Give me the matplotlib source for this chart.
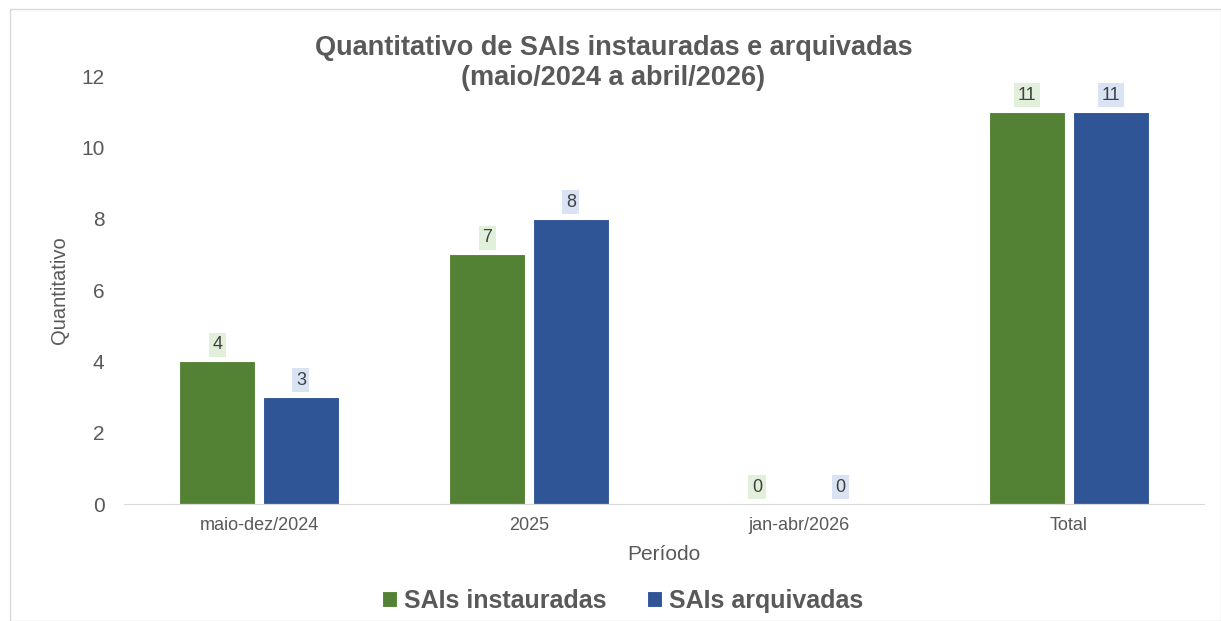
import matplotlib.pyplot as plt
from matplotlib.patches import Rectangle
import numpy as np

plt.rcParams['font.family'] = ['Liberation Sans', 'DejaVu Sans']

periodos = ["maio-dez/2024", "2025", "jan-abr/2026", "Total"]
instauradas = [4, 7, 0, 11]
arquivadas = [3, 8, 0, 11]

GREEN = "#548235"
BLUE = "#2F5597"
TEXT = "#595959"

fig = plt.figure(figsize=(12.21, 6.21), dpi=100)
fig.patches.append(Rectangle((10 / 1221, 0), 1 - 10 / 1221, 1 - 9 / 621,
                             transform=fig.transFigure, fill=False,
                             edgecolor="#d9d9d9", linewidth=1))
ax = fig.add_axes([0.1016, 0.1884, 0.8844, 0.6892])

x = np.arange(len(periodos))
w = 0.28
off = 0.155
b1 = ax.bar(x - off, instauradas, w, color=GREEN, label="SAIs instauradas",
            edgecolor="white", linewidth=0.8)
b2 = ax.bar(x + off, arquivadas, w, color=BLUE, label="SAIs arquivadas",
            edgecolor="white", linewidth=0.8)

for bars, vals, bg in ((b1, instauradas, "#E2EFDA"), (b2, arquivadas, "#DAE3F3")):
    for rect, v in zip(bars, vals):
        ax.annotate(str(v), (rect.get_x() + rect.get_width() / 2, v),
                    xytext=(0, 12), textcoords="offset points",
                    ha="center", va="center", fontsize=13, color="#404040",
                    bbox=dict(boxstyle="square,pad=0.2", fc=bg, ec="none"))

ax.set_xlim(-0.5, len(periodos) - 0.5)
ax.set_ylim(0, 12)
ax.set_yticks(range(0, 13, 2))
ax.set_xticks(x)
ax.set_xticklabels(periodos)
ax.tick_params(axis="y", length=0, labelsize=15, labelcolor=TEXT, pad=14)
ax.tick_params(axis="x", length=0, labelsize=13, labelcolor=TEXT, pad=9)
for s in ("top", "right", "left"):
    ax.spines[s].set_visible(False)
ax.spines["bottom"].set_color("#d9d9d9")

ax.set_ylabel("Quantitativo", fontsize=14.5, color=TEXT, labelpad=9)
ax.set_xlabel("Período", fontsize=15, color=TEXT, labelpad=8)

fig.text(0.5025, 0.898, "Quantitativo de SAIs instauradas e arquivadas\n(maio/2024 a abril/2026)",
         ha="center", va="center", fontsize=19.5, fontweight="bold", color=TEXT,
         linespacing=1.2)

leg = fig.legend(loc="center", bbox_to_anchor=(0.51, 0.033), ncol=2, frameon=False,
                 prop={"size": 18, "weight": "bold"}, handlelength=0.6, handleheight=0.6,
                 handletextpad=0.3, columnspacing=1.6)
for t in leg.get_texts():
    t.set_color(TEXT)

fig.savefig("out.png", dpi=100, facecolor="white")
